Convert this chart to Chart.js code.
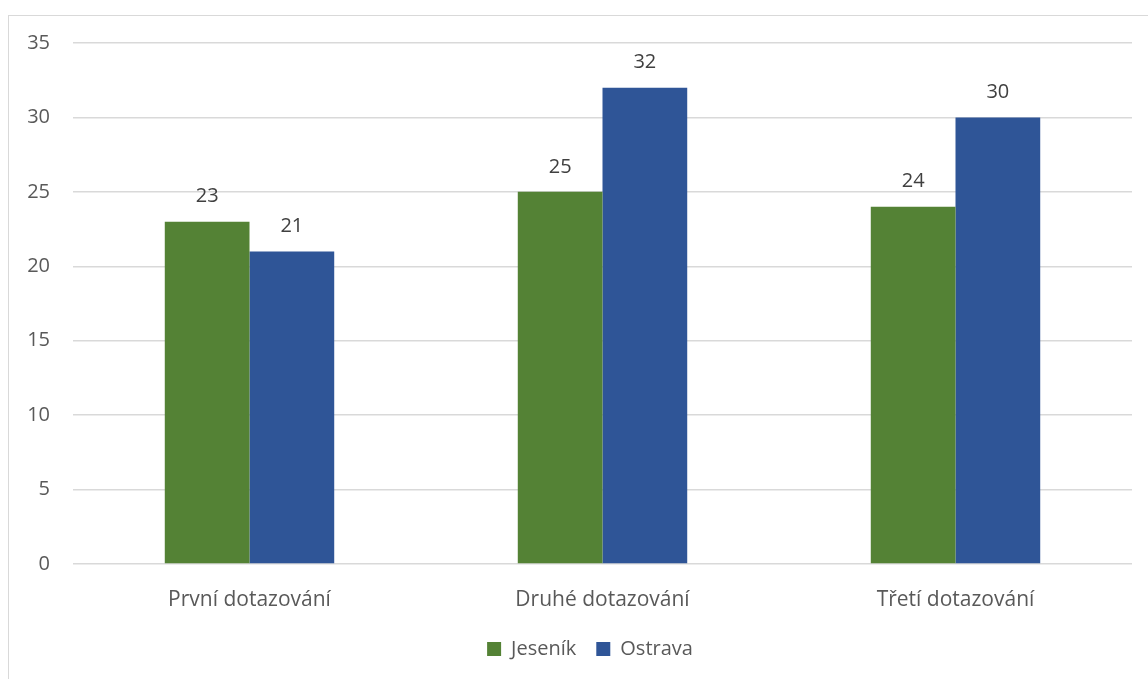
<!DOCTYPE html>
<html>
<head>
<meta charset="utf-8">
<script src="https://cdn.jsdelivr.net/npm/chart.js@4.4.0/dist/chart.umd.min.js"></script>
<style>
  html, body { margin: 0; padding: 0; background: #fff; }
  #frame { position: absolute; left: 8px; top: 15px; width: 1300px; height: 800px; border: 1.5px solid #d9d9d9; box-sizing: border-box; }
  #wrap { position: absolute; left: 0; top: 0; width: 1148px; height: 679px; }
</style>
</head>
<body>
<div id="frame"></div>
<div id="wrap"><canvas id="chart"></canvas></div>
<script>
// --- data ---
const categories = ['První dotazování', 'Druhé dotazování', 'Třetí dotazování'];
const jesenik = [23, 25, 24];
const ostrava = [21, 32, 30];
const yTicks = [0, 5, 10, 15, 20, 25, 30, 35];

const FONT = '"Open Sans", "Noto Sans", sans-serif';
const SIZE = 20;

// simple value labels above the bars
const valueLabels = {
    id: 'valueLabels',
    afterDatasetsDraw(chart) {
        const c = chart.ctx;
        c.save();
        c.font = SIZE + 'px ' + FONT;
        c.fillStyle = '#404040';
        c.textAlign = 'center';
        c.textBaseline = 'middle';
        chart.data.datasets.forEach((ds, i) => {
            chart.getDatasetMeta(i).data.forEach((bar, j) => {
                c.fillText(ds.data[j], bar.x, bar.y - 25);
            });
        });
        c.restore();
    }
};

// legend in the original sits a bit right of the canvas centre
const legendShift = {
    id: 'legendShift',
    afterLayout(chart) {
        if (chart.legend) chart.legend.left = 48;
    }
};

new Chart(document.getElementById('chart'), {
    type: 'bar',
    data: {
        labels: categories,
        datasets: [
            { label: 'Jeseník', data: jesenik, backgroundColor: '#548235' },
            { label: 'Ostrava', data: ostrava, backgroundColor: '#2F5597' }
        ]
    },
    options: {
        responsive: true,
        maintainAspectRatio: false,
        animation: false,
        datasets: { bar: { barPercentage: 1, categoryPercentage: 0.48 } },
        layout: { padding: { top: 43, right: 16, bottom: 10, left: 0 } },
        plugins: {
            tooltip: { enabled: false },
            legend: {
                position: 'bottom',
                labels: {
                    color: '#595959',
                    font: { family: FONT, size: SIZE },
                    boxWidth: 14,
                    boxHeight: 14,
                    padding: 20
                }
            }
        },
        scales: {
            y: {
                min: 0, max: 35,
                afterBuildTicks: s => { s.ticks = yTicks.map(v => ({ value: v })); },
                afterFit: s => { s.width = 73; },
                border: { display: false },
                grid: { color: '#d9d9d9', lineWidth: 1.5, drawTicks: false },
                ticks: { color: '#595959', font: { family: FONT, size: SIZE }, padding: 23 }
            },
            x: {
                afterFit: s => { s.height = 55; },
                border: { display: false },
                grid: { display: false },
                ticks: { color: '#595959', font: { family: FONT, size: 21 }, padding: 15 }
            }
        }
    },
    plugins: [valueLabels, legendShift]
});
</script>
</body>
</html>
